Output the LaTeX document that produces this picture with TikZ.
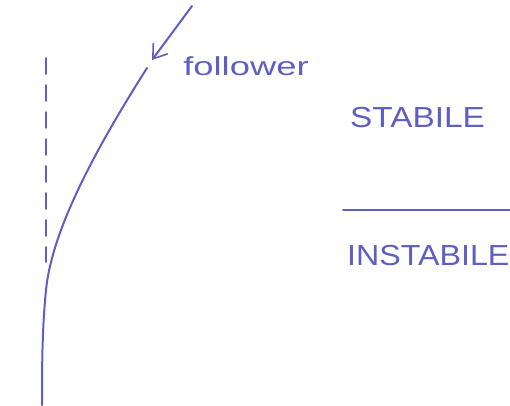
\documentclass[tikz,border=0pt]{standalone}
\usepackage{fontspec}
\setmainfont{Liberation Sans}
\usetikzlibrary{arrows.meta}
\definecolor{pen}{RGB}{95,95,195}
\tikzset{
    ink/.style={
        draw=pen,
        line width=2pt,
        line cap=round,
        line join=round
    },
    label/.style={
        text=pen,
        inner sep=0pt,
        anchor=west
    },
    pointer/.style={
        ink,
        -{Straight Barb[length=13pt,width=18pt,line width=1.6pt]}
    }
}

\begin{document}
\begin{tikzpicture}[x=1pt,y=-1pt]
\useasboundingbox (0,0) rectangle (510,405);
% asymptote
\draw[ink,line width=1.6pt,dash pattern=on 16pt off 11pt] (46,58) -- (46,262);
% follower curve
\coordinate (top) at (147,68);
\coordinate (bot) at (42,405);
\draw[ink] (top) .. controls (95,150) and (52,230) .. (46,290)
  .. controls (42,330) and (42,370) .. (bot);
% pointer to the curve
\coordinate (tail) at (192,6);
\coordinate (tip) at (152,60);
\draw[pointer] (tail) -- (tip);
\node[label,xscale=1.4,font=\fontsize{26}{26}\selectfont] (follower) at (183,66) {follower};
% regions
\node[label,xscale=1.15,font=\fontsize{29}{29}\selectfont] (stabile) at (350,118) {STABILE};
\coordinate (sepL) at (343,210);
\coordinate (sepR) at (510,210);
\draw[ink] (sepL) -- (sepR);
\node[label,xscale=1.11,font=\fontsize{29}{29}\selectfont] (instabile) at (347,256) {INSTABILE};
\end{tikzpicture}
\end{document}
